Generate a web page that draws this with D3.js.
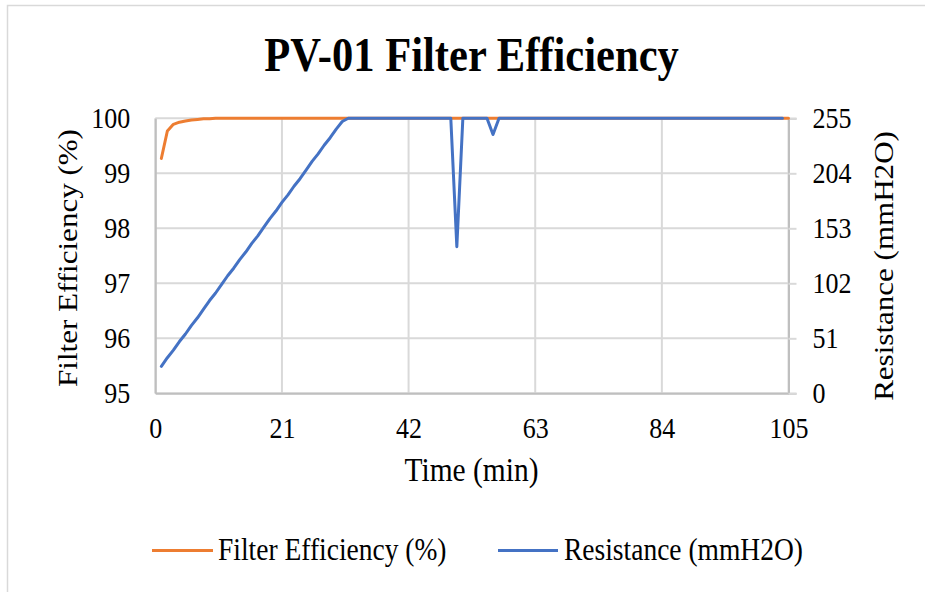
<!DOCTYPE html>
<html><head><meta charset="utf-8">
<script src="https://cdn.jsdelivr.net/npm/d3@7"></script>
<style>body{margin:0;background:#fff}svg{display:block}text{font-family:"Liberation Serif","Times New Roman",serif;fill:#000}</style>
</head><body><svg id="c" width="925" height="592"></svg>
<script>
const chartTitle = "PV-01 Filter Efficiency";
const xLabel = "Time (min)";
const effLabel = "Filter Efficiency (%)";
const resLabel = "Resistance (mmH2O)";
const xTicks = [0, 21, 42, 63, 84, 105];
const effTicks = [95, 96, 97, 98, 99, 100];
const resTicks = [0, 51, 102, 153, 204, 255];

const effMinutes = [1,2,3,4,5,6,7,8,9,10,11,12,13,14,15,16,17,18,19,20,21,22,23,24,25,26,27,28,29,30,31,32,33,34,35,36,37,38,39,40,41,42,43,44,45,46,47,48,49,50,51,52,53,54,55,56,57,58,59,60,61,62,63,64,65,66,67,68,69,70,71,72,73,74,75,76,77,78,79,80,81,82,83,84,85,86,87,88,89,90,91,92,93,94,95,96,97,98,99,100,101,102,103,104,105];
const effValues = [99.27,99.77,99.89,99.93,99.95,99.97,99.98,99.99,99.99,100,100,100,100,100,100,100,100,100,100,100,100,100,100,100,100,100,100,100,100,100,100,100,100,100,100,100,100,100,100,100,100,100,100,100,100,100,100,100,100,100,100,100,100,100,100,100,100,100,100,100,100,100,100,100,100,100,100,100,100,100,100,100,100,100,100,100,100,100,100,100,100,100,100,100,100,100,100,100,100,100,100,100,100,100,100,100,100,100,100,100,100,100,100,100,100];

const resMinutes = [1,2,3,4,5,6,7,8,9,10,11,12,13,14,15,16,17,18,19,20,21,22,23,24,25,26,27,28,29,30,31,32,33,34,35,36,37,38,39,40,41,42,43,44,45,46,47,48,49,50,51,52,53,54,55,56,57,58,59,60,61,62,63,64,65,66,67,68,69,70,71,72,73,74,75,76,77,78,79,80,81,82,83,84,85,86,87,88,89,90,91,92,93,94,95,96,97,98,99,100,101,102,103,104];
const resValues = [25,33,40,48,55,63,70,78,86,93,101,109,116,124,131,139,146,154,162,169,177,184,192,199,207,215,222,230,237,245,252,255,255,255,255,255,255,255,255,255,255,255,255,255,255,255,255,255,255,136,255,255,255,255,255,240,255,255,255,255,255,255,255,255,255,255,255,255,255,255,255,255,255,255,255,255,255,255,255,255,255,255,255,255,255,255,255,255,255,255,255,255,255,255,255,255,255,255,255,255,255,255,255,255];

const SY = 1.15; // vertical text stretch seen in the reference
const svg = d3.select("#c");
const L = 155.3, R = 788.5, T = 118.3, B = 393.3;
const x = d3.scaleLinear().domain([0, 105]).range([L, R]);
const yE = d3.scaleLinear().domain([95, 100]).range([B, T]);
const yR = d3.scaleLinear().domain([0, 255]).range([B, T]);

// outer chart border (only top & left visible)
svg.append("path").attr("d", "M7.5,600V5.5H930").attr("fill", "none").attr("stroke", "#d9d9d9").attr("stroke-width", 1.5);

function txt(xp, yp, s, size, anchor, rot, weight) {
  return svg.append("text")
    .attr("transform", `translate(${xp},${yp}) scale(1,${SY})` + (rot ? " rotate(-90)" : ""))
    .attr("text-anchor", anchor || "middle")
    .attr("font-size", size)
    .attr("font-weight", weight || "normal")
    .text(s);
}

// gridlines
const grid = svg.append("g").attr("stroke", "#d9d9d9").attr("stroke-width", 2);
grid.selectAll("line.h").data(effTicks).join("line").attr("class", "h")
  .attr("x1", L).attr("x2", R).attr("y1", d => yE(d)).attr("y2", d => yE(d));
grid.selectAll("line.v").data(xTicks).join("line").attr("class", "v")
  .attr("x1", d => x(d)).attr("x2", d => x(d)).attr("y1", T).attr("y2", B);

// axes
const axB = svg.append("g").attr("transform", `translate(0,${B})`)
  .call(d3.axisBottom(x).tickValues(xTicks).tickSize(0).tickFormat(d3.format("d")));
const axL = svg.append("g").attr("transform", `translate(${L},0)`)
  .call(d3.axisLeft(yE).tickValues(effTicks).tickSize(0).tickFormat(d3.format("d")));
const axR = svg.append("g").attr("transform", `translate(${R},0)`)
  .call(d3.axisRight(yR).tickValues(resTicks).tickSize(8).tickFormat(d3.format("d")));
[axB, axL, axR].forEach(a => {
  a.attr("font-family", null).attr("font-size", null);
  a.select(".domain").attr("stroke", "#bfbfbf").attr("stroke-width", 2);
  a.selectAll(".tick line").attr("stroke", "#d9d9d9").attr("stroke-width", 2);
  a.selectAll(".tick text").attr("x", null).attr("y", null).attr("dy", null).attr("fill", "#000").attr("font-size", 26);
});
axB.selectAll(".tick text").attr("text-anchor", "middle").attr("transform", `translate(0,44.7) scale(1,${SY})`);
axL.selectAll(".tick text").attr("text-anchor", "end").attr("transform", `translate(-25,9.5) scale(1,${SY})`);
axR.selectAll(".tick text").attr("text-anchor", "start").attr("transform", `translate(24,9.5) scale(1,${SY})`);

// lines
const effData = effMinutes.map((m, i) => [m, effValues[i]]);
const resData = resMinutes.map((m, i) => [m, resValues[i]]);
svg.append("path").datum(effData).attr("fill", "none").attr("stroke", "#ED7D31").attr("stroke-width", 3)
  .attr("stroke-linejoin", "round").attr("stroke-linecap", "round")
  .attr("d", d3.line().x(d => x(d[0])).y(d => yE(d[1])));
svg.append("path").datum(resData).attr("fill", "none").attr("stroke", "#4472C4").attr("stroke-width", 3)
  .attr("stroke-linejoin", "round").attr("stroke-linecap", "round")
  .attr("d", d3.line().x(d => x(d[0])).y(d => yR(d[1])));

// titles
txt(471.5, 71, chartTitle, 42.6, "middle", false, "bold");
txt(471.5, 481, xLabel, 29.5, "middle");
txt(77, 258, effLabel, 27, "middle", true);
txt(893, 266, resLabel, 27, "middle", true);

// legend
const legend = [
  {name: effLabel, color: "#ED7D31", x1: 152, x2: 213, tx: 218},
  {name: resLabel, color: "#4472C4", x1: 498, x2: 558, tx: 564}
];
legend.forEach(l => {
  svg.append("line").attr("x1", l.x1).attr("x2", l.x2).attr("y1", 550.5).attr("y2", 550.5)
    .attr("stroke", l.color).attr("stroke-width", 3);
  txt(l.tx, 560, l.name, 27.5, "start");
});
</script></body></html>
